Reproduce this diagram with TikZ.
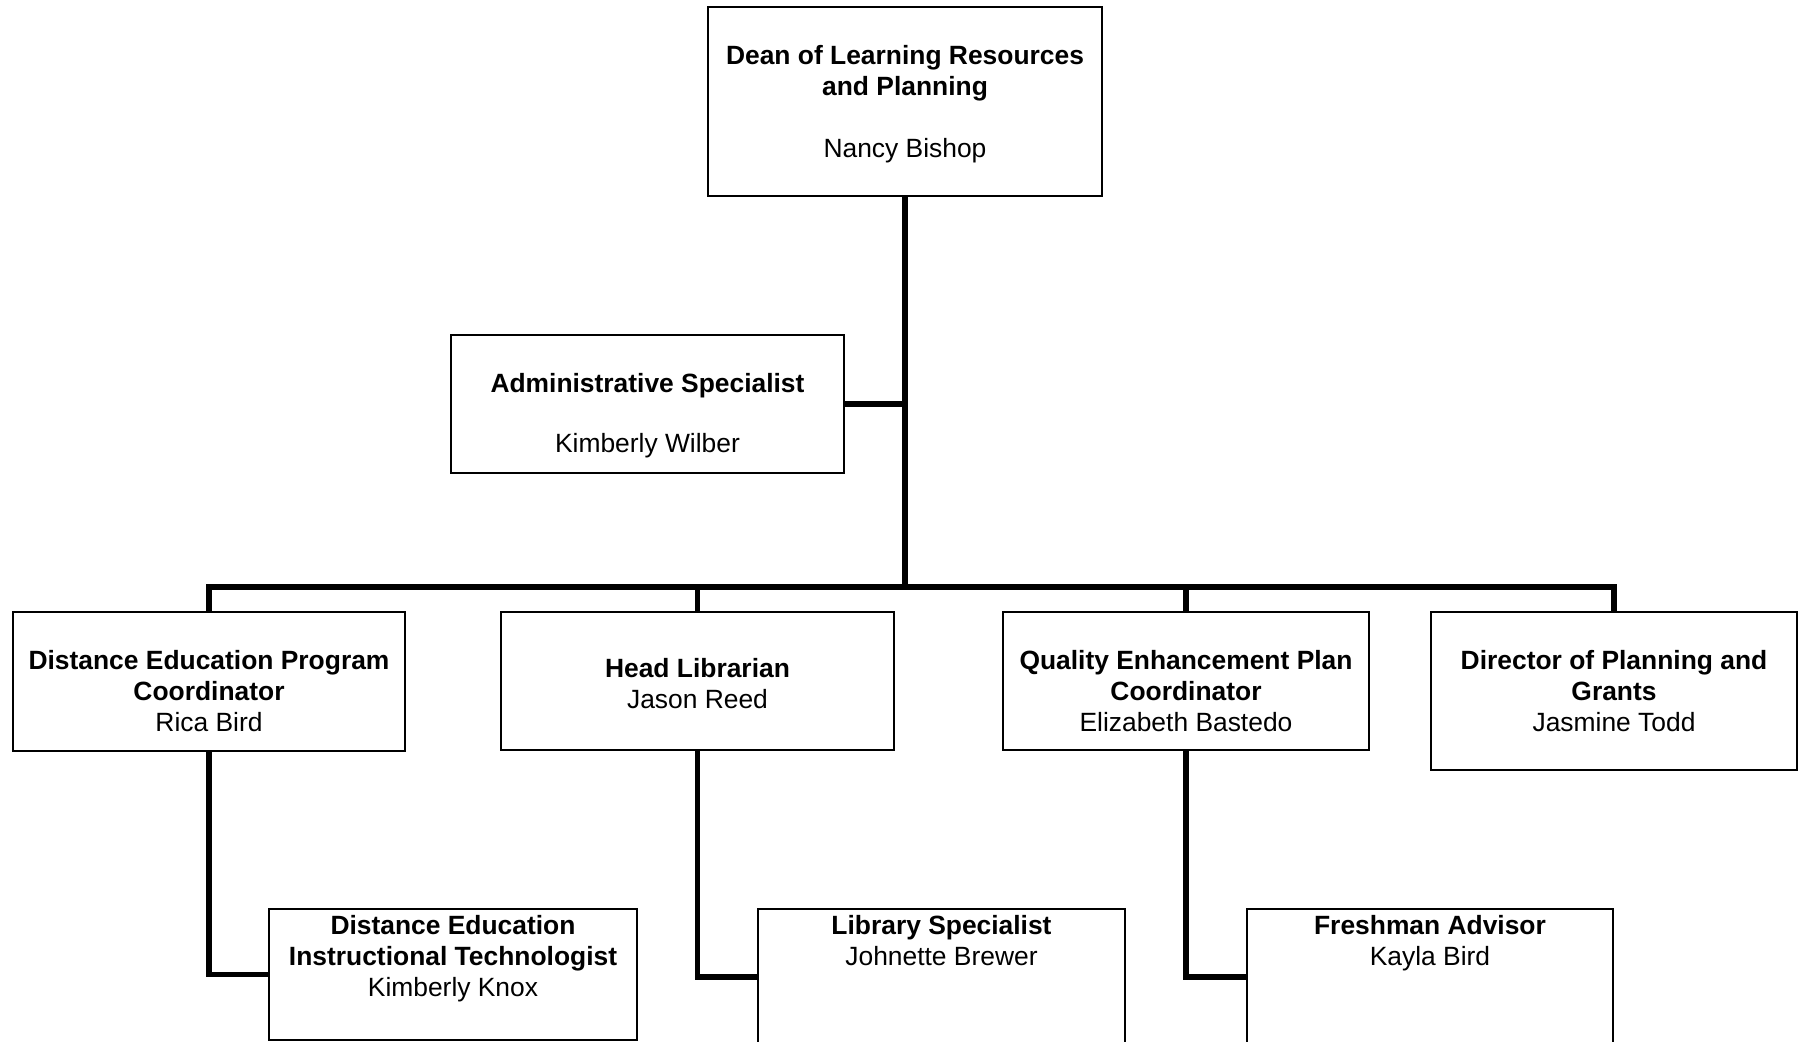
\documentclass[tikz,border=0pt]{standalone}
\usepackage{fontspec}
\setmainfont{Liberation Sans}
\usepackage{tikz}

\begin{document}
\begin{tikzpicture}[x=0.75pt,y=0.75pt,yscale=-1,xscale=1,
  box/.style={draw, rectangle, line width=1.5pt, inner sep=0pt},
  conn/.style={line width=4pt},
  lbl/.style={anchor=north, align=center, inner sep=0pt, font=\fontsize{19.8pt}{23.25pt}\selectfont}]
%set diagram left start at 0, and has height of 1042
\useasboundingbox (0,0) rectangle (1799,1042);
\clip (0,0) rectangle (1799,1042);
\fill[white] (0,0) rectangle (1799,1042);

%Shape: Rectangle [dean]
\node[box, minimum width=295.5pt, minimum height=141.75pt] (dean) at (905,101.5) {};
%Shape: Rectangle [admin]
\node[box, minimum width=294.75pt, minimum height=103.5pt] (admin) at (647.5,404) {};
%Shape: Rectangle [dep]
\node[box, minimum width=294pt, minimum height=104.25pt] (dep) at (209,681.5) {};
%Shape: Rectangle [head]
\node[box, minimum width=294.75pt, minimum height=103.5pt] (head) at (697.5,681) {};
%Shape: Rectangle [qep]
\node[box, minimum width=274.5pt, minimum height=103.5pt] (qep) at (1186,681) {};
%Shape: Rectangle [dir]
\node[box, minimum width=274.5pt, minimum height=118.5pt] (dir) at (1614,691) {};
%Shape: Rectangle [deit]
\node[box, minimum width=276pt, minimum height=98.25pt] (deit) at (453,974.5) {};
%Shape: Rectangle [libs]
\node[box, minimum width=275.25pt, minimum height=102pt] (libs) at (941.5,977) {};
%Shape: Rectangle [fresh]
\node[box, minimum width=274.5pt, minimum height=102pt] (fresh) at (1430,977) {};

%Straight Lines
\coordinate (bus) at (905,587);
\draw[conn] (dean.south) -- (dean.south |- bus);
\draw[conn] (admin.east) -- (admin.east -| dean.south);
\draw[conn] (dep.north) -- (dep.north |- bus) -- (dir.north |- bus) -- (dir.north);
\draw[conn] (head.north) -- (head.north |- bus);
\draw[conn] (qep.north) -- (qep.north |- bus);
\draw[conn] (dep.south) |- (deit.west);
\draw[conn] (head.south) |- (libs.west);
\draw[conn] (qep.south) |- (fresh.west);

% Text Node
\node[lbl] (dean-t) at (905,45) {\textbf{Dean of Learning Resources}\\\textbf{and Planning}\\[23pt]Nancy Bishop};
% Text Node
\node[lbl] (admin-t) at (647.5,373) {\textbf{Administrative Specialist}\\[21.5pt]Kimberly Wilber};
% Text Node
\node[lbl] (dep-t) at (209,650) {\textbf{Distance Education Program}\\\textbf{Coordinator}\\Rica Bird};
% Text Node
\node[lbl] (head-t) at (697.5,658.5) {\textbf{Head Librarian}\\Jason Reed};
% Text Node
\node[lbl] (qep-t) at (1186,650) {\textbf{Quality Enhancement Plan}\\\textbf{Coordinator}\\Elizabeth Bastedo};
% Text Node
\node[lbl] (dir-t) at (1614,650) {\textbf{Director of Planning and}\\\textbf{Grants}\\Jasmine Todd};
% Text Node
\node[lbl] (deit-t) at (453,915.5) {\textbf{Distance Education}\\\textbf{Instructional Technologist}\\Kimberly Knox};
% Text Node
\node[lbl] (libs-t) at (941.5,915.5) {\textbf{Library Specialist}\\Johnette Brewer};
% Text Node
\node[lbl] (fresh-t) at (1430,915.5) {\textbf{Freshman Advisor}\\Kayla Bird};

\end{tikzpicture}
\end{document}
